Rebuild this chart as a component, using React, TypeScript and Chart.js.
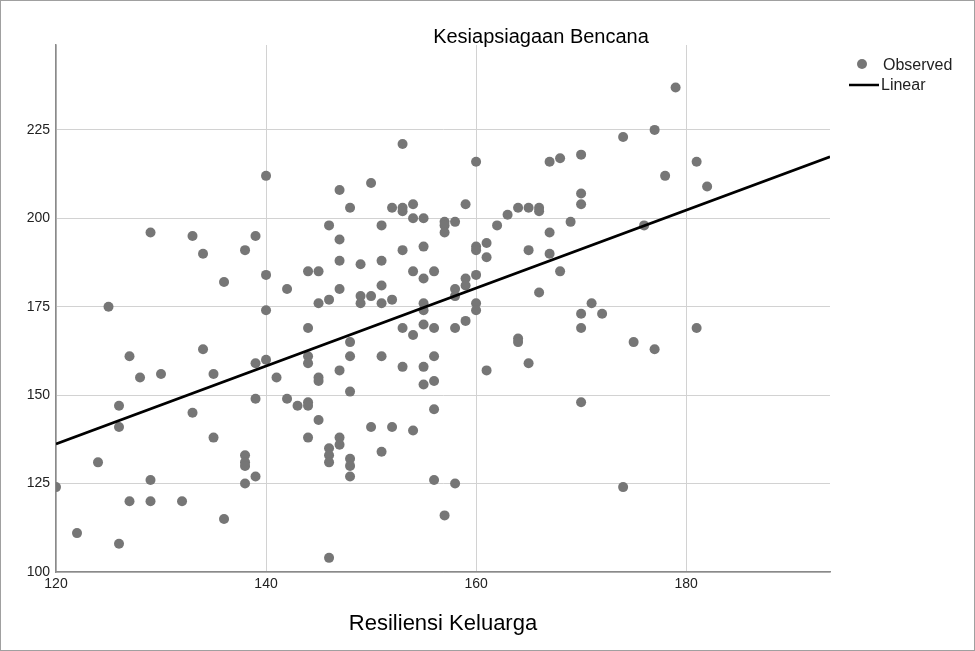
import { useEffect, useRef } from 'react';
import { Chart, registerables } from 'chart.js';

Chart.register(...registerables);

// Observed points: Resiliensi Keluarga (x) vs Kesiapsiagaan Bencana (y)
const resiliensi = [
  120, 122, 124, 125, 126, 126, 126, 127, 127, 128,
  129, 129, 129, 130, 132, 133, 133, 134, 134, 135, 135, 136, 136,
  138, 138, 138, 138, 138, 139, 139, 139, 139, 140, 140, 140, 140, 141, 142, 142, 143,
  144, 144, 144, 144, 144, 144, 144, 145, 145, 145, 145, 145,
  146, 146, 146, 146, 146, 146, 147, 147, 147, 147, 147, 147, 147,
  148, 148, 148, 148, 148, 148, 148, 149, 149, 149, 150, 150, 150,
  151, 151, 151, 151, 151, 151, 152, 152, 152,
  153, 153, 153, 153, 153, 153, 154, 154, 154, 154, 154,
  155, 155, 155, 155, 155, 155, 155, 155, 156, 156, 156, 156, 156, 156,
  157, 157, 157, 157, 158, 158, 158, 158, 158, 159, 159, 159, 159,
  160, 160, 160, 160, 160, 160, 161, 161, 161, 162, 163, 164, 164, 164,
  165, 165, 165, 166, 166, 166, 167, 167, 167, 168, 168, 169,
  170, 170, 170, 170, 170, 170, 171, 172, 174, 174, 175, 176, 177, 177, 178, 179, 181, 181, 182,
];
const kesiapsiagaan = [
  124, 111, 131, 175, 147, 141, 108, 161, 120, 155,
  196, 126, 120, 156, 120, 195, 145, 190, 163, 156, 138, 182, 115,
  191, 133, 131, 130, 125, 195, 159, 149, 127, 212, 184, 174, 160, 155, 180, 149, 147,
  185, 169, 161, 159, 148, 147, 138, 185, 176, 155, 154, 143,
  198, 177, 135, 133, 131, 104, 208, 194, 188, 180, 157, 138, 136,
  203, 165, 161, 151, 132, 130, 127, 187, 178, 176, 210, 178, 141,
  198, 188, 181, 176, 161, 134, 203, 177, 141,
  221, 203, 202, 191, 169, 158, 204, 200, 185, 167, 140,
  200, 192, 183, 176, 174, 170, 158, 153, 185, 169, 161, 154, 146, 126,
  199, 198, 196, 116, 199, 180, 178, 169, 125, 204, 183, 181, 171,
  216, 192, 191, 184, 176, 174, 193, 189, 157, 198, 201, 203, 166, 165,
  203, 191, 159, 203, 202, 179, 216, 196, 190, 217, 185, 199,
  218, 207, 204, 173, 169, 148, 176, 173, 223, 124, 165, 198, 225, 163, 212, 237, 216, 169, 209,
];

// Linear fit line (endpoints)
const linearX = [120, 193.7];
const linearY = [136.2, 217.4];

const xTicks = [120, 140, 160, 180];
const yTicks = [100, 125, 150, 175, 200, 225];

const FONT = '"Liberation Sans", Arial, sans-serif';

const decorPlugin = {
  id: 'decor',
  afterDraw(chart: any) {
    const ctx = chart.ctx;
    ctx.save();
    // Title
    ctx.fillStyle = '#000';
    ctx.font = `20px ${FONT}`;
    ctx.textAlign = 'center';
    ctx.textBaseline = 'middle';
    ctx.fillText('Kesiapsiagaan Bencana', 541, 37);
    // Legend
    ctx.fillStyle = '#767676';
    ctx.beginPath();
    ctx.arc(862, 64, 5, 0, Math.PI * 2);
    ctx.fill();
    ctx.fillStyle = '#222';
    ctx.font = `16px ${FONT}`;
    ctx.textAlign = 'left';
    ctx.fillText('Observed', 883, 66);
    ctx.strokeStyle = '#000';
    ctx.lineWidth = 2.5;
    ctx.beginPath();
    ctx.moveTo(849, 85);
    ctx.lineTo(879, 85);
    ctx.stroke();
    ctx.fillText('Linear', 881, 86);
    // Frame
    ctx.strokeStyle = '#a0a0a0';
    ctx.lineWidth = 1;
    ctx.strokeRect(0.5, 0.5, 974, 650);
    ctx.restore();
  },
};

export default function App() {
  const ref = useRef<HTMLCanvasElement | null>(null);

  useEffect(() => {
    if (!ref.current) return;
    const observed = resiliensi.map((x, i) => ({ x, y: kesiapsiagaan[i] }));
    const linear = linearX.map((x, i) => ({ x, y: linearY[i] }));
    const chart = new Chart(ref.current, {
      type: 'scatter',
      data: {
        datasets: [
          {
            type: 'line',
            label: 'Linear',
            data: linear,
            borderColor: '#000',
            borderWidth: 2.6,
            pointRadius: 0,
            fill: false,
          } as any,
          {
            label: 'Observed',
            data: observed,
            backgroundColor: '#767676',
            borderWidth: 0,
            pointRadius: 5,
          },
        ],
      },
      options: {
        animation: false,
        responsive: false,
        devicePixelRatio: 1,
        layout: { padding: { left: 0, right: 145, top: 45, bottom: 0 } },
        plugins: {
          legend: { display: false },
          title: { display: false },
          tooltip: { enabled: false },
        },
        scales: {
          x: {
            type: 'linear',
            min: 120,
            max: 193.7,
            afterBuildTicks: (s: any) => {
              s.ticks = xTicks.map((v) => ({ value: v }));
            },
            afterFit: (s: any) => {
              s.height = 79;
            },
            grid: { color: '#d2d2d2', lineWidth: 1, drawTicks: false },
            border: { color: '#8a8a8a', width: 1.5 },
            ticks: {
              color: '#222',
              font: { family: FONT, size: 14 },
              padding: 4,
              maxRotation: 0,
            },
            title: {
              display: true,
              text: 'Resiliensi Keluarga',
              color: '#000',
              font: { family: FONT, size: 22 },
              padding: { top: 0, bottom: 14 },
            },
          },
          y: {
            type: 'linear',
            min: 100,
            max: 249,
            afterBuildTicks: (s: any) => {
              s.ticks = yTicks.map((v) => ({ value: v }));
            },
            afterFit: (s: any) => {
              s.width = 56;
            },
            grid: { color: '#d2d2d2', lineWidth: 1, drawTicks: false },
            border: { color: '#8a8a8a', width: 1.5 },
            ticks: {
              color: '#222',
              font: { family: FONT, size: 14 },
              padding: 6,
            },
          },
        },
      },
      plugins: [decorPlugin],
    });
    return () => chart.destroy();
  }, []);

  return (
    <div style={{ position: 'absolute', left: 0, top: 0, width: 975, height: 651, background: '#fff' }}>
      <canvas ref={ref} width={975} height={651} />
    </div>
  );
}
